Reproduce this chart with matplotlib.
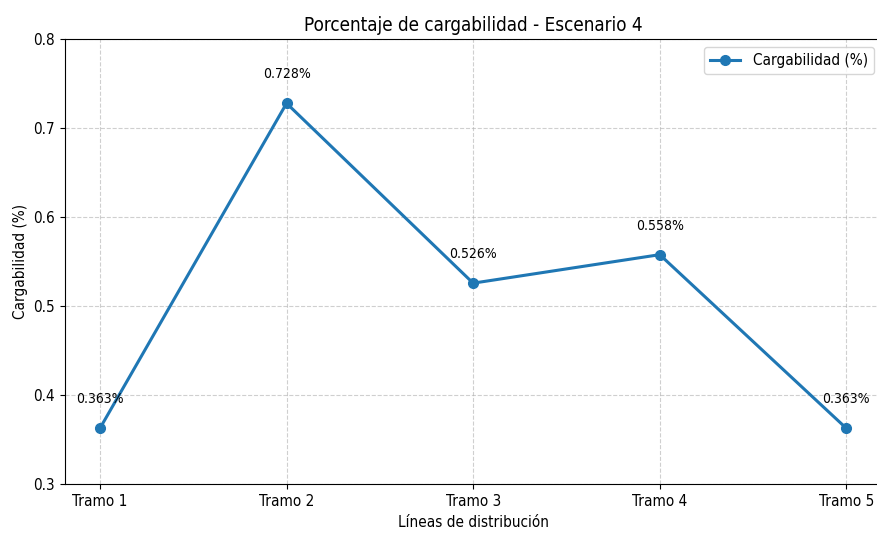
import matplotlib
matplotlib.use('Agg')
import matplotlib.pyplot as plt

tramos = ['Tramo 1', 'Tramo 2', 'Tramo 3', 'Tramo 4', 'Tramo 5']
cargabilidad = [0.363, 0.728, 0.526, 0.558, 0.363]

plt.rcParams['font.stretch'] = 'condensed'

fig, ax = plt.subplots(figsize=(8.77, 5.37), dpi=100)
ax.plot(tramos, cargabilidad, marker='o', color='#1f77b4', linewidth=2.2,
        markersize=7, label='Cargabilidad (%)')

for i, v in enumerate(cargabilidad):
    ax.annotate(f'{v:.3f}%', (i, v), textcoords='offset points',
                xytext=(0, 18), ha='center', fontsize=10)

ax.set_xlim(-0.188, len(tramos) - 1 + 0.188)
ax.set_ylim(0.3, 0.8)
ax.set_yticks([0.3, 0.4, 0.5, 0.6, 0.7, 0.8])
ax.set_title('Porcentaje de cargabilidad - Escenario 4', fontsize=13.5)
ax.set_xlabel('Líneas de distribución', fontsize=11)
ax.set_ylabel('Cargabilidad (%)', fontsize=11)
ax.tick_params(labelsize=11)
ax.grid(True, linestyle='--', alpha=0.6)
ax.legend(loc='upper right', fontsize=11)

fig.subplots_adjust(left=0.074, right=1.005, top=0.927, bottom=0.098)
fig.savefig('out.png')
